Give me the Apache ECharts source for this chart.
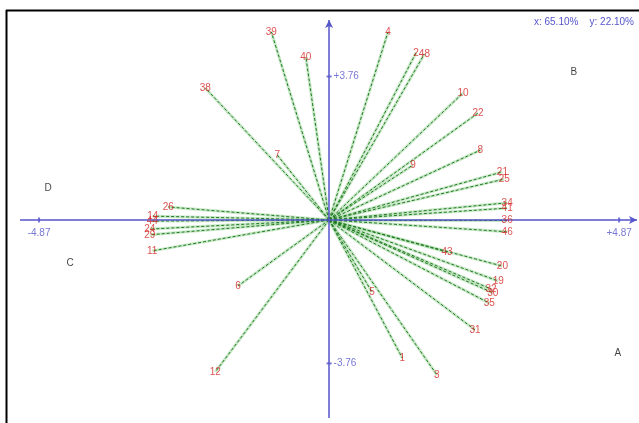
<!DOCTYPE html>
<html>
<head>
<meta charset="utf-8">
<script src="https://cdn.jsdelivr.net/npm/echarts@6/dist/echarts.min.js"></script>
<style>
html, body { margin: 0; padding: 0; background: #fff; }
#chart { width: 639px; height: 423px; }
</style>
</head>
<body>
<div id="chart"></div>
<script>
// variable loadings (biplot coordinates, same units as the axis ticks)
var varNames = ['38', '39', '40', '4', '2', '48', '10', '22', '8', '9', '21', '25', '34', '41', '36', '46',
  '43', '20', '19', '32', '30', '35', '31', '1', '3', '5', '7', '26', '14', '44', '24', '29', '11', '6', '12'];
var varX = [-2.08, -0.97, -0.39, 0.99, 1.46, 1.60, 2.25, 2.50, 2.54, 1.41, 2.91, 2.94, 2.99, 2.99, 2.99, 2.99,
  1.98, 2.91, 2.84, 2.72, 2.75, 2.69, 2.45, 1.23, 1.81, 0.72, -0.87, -2.70, -2.96, -2.97, -3.01, -3.01, -2.97, -1.53, -1.91];
var varY = [3.46, 4.93, 4.27, 4.93, 4.38, 4.35, 3.33, 2.80, 1.83, 1.44, 1.26, 1.07, 0.45, 0.31, 0.00, -0.31,
  -0.84, -1.21, -1.60, -1.81, -1.91, -2.18, -2.88, -3.62, -4.06, -1.89, 1.70, 0.34, 0.10, -0.03, -0.24, -0.39, -0.81, -1.73, -3.98];

// group positions
var groupNames = ['A', 'B', 'C', 'D'];
var groupX = [4.85, 4.11, -4.35, -4.72];
var groupY = [-3.49, 3.88, -1.13, 0.84];

// axis ticks and extents
var xTicks = [-4.87, 4.87];
var xTickLabels = ['-4.87', '+4.87'];
var yTicks = [3.76, -3.76];
var yTickLabels = ['+3.76', '-3.76'];
var xLimits = [-5.19, 5.17];
var yLimits = [-5.19, 5.24];
var inertiaText = 'x: 65.10%    y: 22.10%';

var axisColor = '#5555cc';
var font = 'Liberation Sans, Arial, sans-serif';

var vectorData = [];
var labelData = [];
for (var i = 0; i < varNames.length; i++) {
  vectorData.push({ coords: [[0, 0], [varX[i], varY[i]]] });
  labelData.push({ name: varNames[i], value: [varX[i], varY[i]] });
}
var groupData = [];
for (var g = 0; g < groupNames.length; g++) {
  groupData.push({ name: groupNames[g], value: [groupX[g], groupY[g]] });
}
var xTickData = [];
for (var t = 0; t < xTicks.length; t++) {
  xTickData.push({ name: xTickLabels[t], value: [xTicks[t], 0] });
}
var yTickData = [];
for (var u = 0; u < yTicks.length; u++) {
  yTickData.push({ name: yTickLabels[u], value: [0, yTicks[u]] });
}

var myChart = echarts.init(document.getElementById('chart'));
var option = {
  animation: false,
  backgroundColor: '#fff',
  title: {
    text: inertiaText,
    right: 0,
    top: 12,
    textStyle: { color: axisColor, fontSize: 10, fontWeight: 'normal', fontFamily: font }
  },
  graphic: [
    { type: 'line', shape: { x1: 6, y1: 10.5, x2: 639, y2: 10.5 }, style: { stroke: '#000', lineWidth: 2 } },
    { type: 'line', shape: { x1: 6.5, y1: 10, x2: 6.5, y2: 423 }, style: { stroke: '#000', lineWidth: 2 } }
  ],
  grid: { left: 20, right: 2, top: 20, bottom: 5 },
  xAxis: { type: 'value', min: xLimits[0], max: xLimits[1], show: false },
  yAxis: { type: 'value', min: yLimits[0], max: yLimits[1], show: false },
  series: [
    {
      // the two blue axes with arrow heads
      type: 'scatter',
      data: [],
      z: 1,
      markLine: {
        silent: true,
        symbol: ['none', 'arrow'],
        symbolSize: [6, 8],
        label: { show: false },
        lineStyle: { color: axisColor, type: 'solid', width: 1.5 },
        data: [
          [{ coord: [xLimits[0], 0] }, { coord: [xLimits[1], 0] }],
          [{ coord: [0, yLimits[0]] }, { coord: [0, yLimits[1]] }]
        ]
      }
    },
    {
      type: 'scatter',
      z: 2,
      symbol: 'rect',
      symbolSize: [2, 5],
      itemStyle: { color: axisColor },
      data: xTickData,
      label: {
        show: true, formatter: '{b}', position: 'bottom', distance: 6,
        color: axisColor, fontSize: 10, fontFamily: font
      }
    },
    {
      type: 'scatter',
      z: 2,
      symbol: 'rect',
      symbolSize: [5, 2],
      itemStyle: { color: axisColor },
      data: yTickData,
      label: {
        show: true, formatter: '{b}', position: 'right', distance: 2,
        color: axisColor, fontSize: 10, fontFamily: font
      }
    },
    {
      // pale halo under each vector
      type: 'lines',
      coordinateSystem: 'cartesian2d',
      z: 3,
      silent: true,
      lineStyle: { color: '#a6d8a6', width: 3, opacity: 0.6, type: 'solid' },
      data: vectorData
    },
    {
      type: 'lines',
      coordinateSystem: 'cartesian2d',
      z: 4,
      silent: true,
      lineStyle: { color: '#1f7a1f', width: 1, opacity: 1, type: [3, 2] },
      data: vectorData
    },
    {
      type: 'scatter',
      z: 5,
      symbolSize: 1,
      itemStyle: { color: 'rgba(0,0,0,0)' },
      labelLayout: { hideOverlap: false },
      data: labelData,
      label: {
        show: true, formatter: '{b}', position: 'inside',
        color: '#d42424', fontSize: 10, fontFamily: font
      }
    },
    {
      type: 'scatter',
      z: 5,
      symbolSize: 1,
      itemStyle: { color: 'rgba(0,0,0,0)' },
      data: groupData,
      label: {
        show: true, formatter: '{b}', position: 'inside',
        color: '#111', fontSize: 10, fontFamily: font
      }
    }
  ]
};
myChart.setOption(option);
</script>
</body>
</html>
